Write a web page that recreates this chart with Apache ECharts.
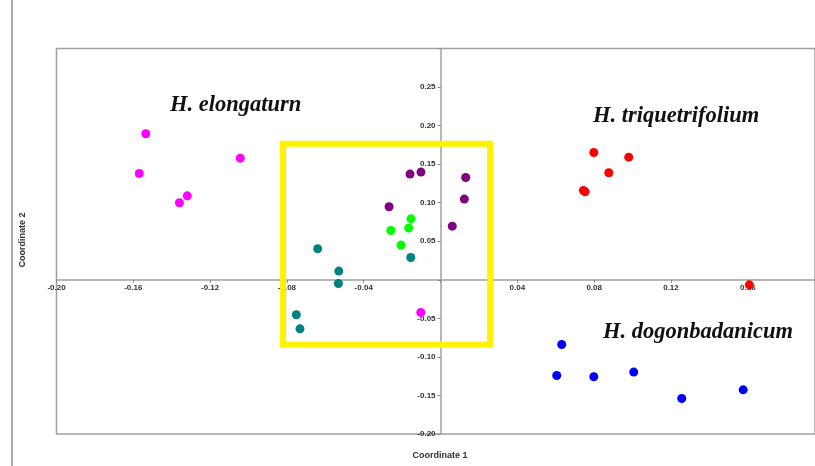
<!DOCTYPE html>
<html>
<head>
<meta charset="utf-8">
<script src="https://cdn.jsdelivr.net/npm/echarts@6/dist/echarts.min.js"></script>
<style>html,body{margin:0;padding:0;background:#fff;}#c{width:815px;height:466px;}</style>
</head>
<body>
<div id="c"></div>
<script>
// Data (Coordinate 1, Coordinate 2)
const elongaturn = [[-0.1535,0.1894],[-0.1569,0.1379],[-0.1319,0.1089],[-0.1360,0.0999],[-0.1043,0.1578],[-0.0103,-0.0424]];
const triquetrifolium = [[0.0798,0.1651],[0.0980,0.1591],[0.0876,0.1388],[0.0744,0.1158],[0.0753,0.1141],[0.1608,-0.0065]];
const dogonbadanicum = [[0.0631,-0.0839],[0.0605,-0.1241],[0.0798,-0.1258],[0.1006,-0.1197],[0.1256,-0.1540],[0.1576,-0.1427]];
const purpleGroup = [[-0.0159,0.1371],[-0.0102,0.1397],[-0.0268,0.0947],[0.0131,0.1327],[0.0124,0.1047],[0.0061,0.0696]];
const greenGroup = [[-0.0154,0.0791],[-0.0166,0.0671],[-0.0259,0.0639],[-0.0206,0.0450]];
const tealGroup = [[-0.0155,0.0289],[-0.0640,0.0402],[-0.0530,0.0113],[-0.0532,-0.0048],[-0.0751,-0.0454],[-0.0732,-0.0636]];

const groupNames = ['H. elongaturn','H. triquetrifolium','H. dogonbadanicum','purple','green','teal'];
const groupColors = ['#ff00ff','#ff0000','#0000ff','#800080','#00ff00','#008080'];
const groupData = [elongaturn, triquetrifolium, dogonbadanicum, purpleGroup, greenGroup, tealGroup];

const xTickLabels = ['-0.20','-0.16','-0.12','-0.08','-0.04','0.04','0.08','0.12','0.16'];
const yTickLabels = ['-0.20','-0.15','-0.10','-0.05','0.05','0.10','0.15','0.20','0.25'];

// Highlight box (data coordinates)
const boxX = [-0.082, 0.0258];
const boxY = [-0.0843, 0.1764];

const chart = echarts.init(document.getElementById('c'));
const tickFont = {fontSize: 8, fontWeight: 'bold', color: '#333', fontFamily: 'Arial, "Liberation Sans", sans-serif'};
function fmt(list) {
  return function (v) {
    const s = v.toFixed(2);
    return list.indexOf(s) >= 0 ? s : '';
  };
}
const option = {
  animation: false,
  backgroundColor: '#fff',
  grid: {left: 56.5, right: 0, top: 48.5, bottom: 32, show: true, borderColor: '#a0a0a0', borderWidth: 1.5, containLabel: false},
  xAxis: {
    type: 'value', min: -0.20, max: 0.195, interval: 0.04, position: 'bottom', offset: 0,
    axisLine: {onZero: false, lineStyle: {color: '#a0a0a0', width: 1.5}},
    axisTick: {show: true, length: 3, lineStyle: {color: '#888'}},
    axisLabel: Object.assign({formatter: fmt(xTickLabels), margin: 4, showMaxLabel: false}, tickFont),
    splitLine: {show: false}
  },
  yAxis: {
    type: 'value', min: -0.20, max: 0.30, interval: 0.05, position: 'left', offset: 0,
    axisLine: {onZero: false, lineStyle: {color: '#a0a0a0', width: 1.5}},
    axisTick: {show: true, length: 3, lineStyle: {color: '#888'}},
    axisLabel: Object.assign({formatter: fmt(yTickLabels), margin: 5}, tickFont),
    splitLine: {show: false}
  },
  series: groupData.map(function (d, i) {
    return {
      name: groupNames[i], type: 'scatter', data: d, symbolSize: 9,
      itemStyle: {color: groupColors[i], opacity: 1}, z: 3
    };
  })
};
chart.setOption(option);

// Move the axes (with their labels) onto the zero lines
const origin = chart.convertToPixel({gridIndex: 0}, [0, 0]);
const corner = chart.convertToPixel({gridIndex: 0}, [-0.20, -0.20]);
const p1 = chart.convertToPixel({gridIndex: 0}, [boxX[0], boxY[1]]);
const p2 = chart.convertToPixel({gridIndex: 0}, [boxX[1], boxY[0]]);
const labelFont = 'italic bold 22.5px "Liberation Serif", "DejaVu Serif", serif';
const axisTitleFont = 'bold 9px Arial, "Liberation Sans", sans-serif';
chart.setOption({
  xAxis: {offset: -(corner[1] - origin[1])},
  yAxis: {offset: -(origin[0] - corner[0])},
  graphic: [
    {type: 'line', shape: {x1: 12, y1: 0, x2: 12, y2: 466}, style: {stroke: '#a8a8a8', lineWidth: 2}, silent: true},
    {type: 'rect', shape: {x: p1[0], y: p1[1], width: p2[0] - p1[0], height: p2[1] - p1[1]},
     style: {fill: 'none', stroke: '#fff200', lineWidth: 6}, z: 10, silent: true},
    {type: 'text', x: 170, y: 105, style: {text: 'H. elongaturn', font: labelFont, fill: '#111', textVerticalAlign: 'middle'}, z: 10},
    {type: 'text', x: 593, y: 116, style: {text: 'H. triquetrifolium', font: labelFont, fill: '#111', textVerticalAlign: 'middle'}, z: 10},
    {type: 'text', x: 603, y: 332, style: {text: 'H. dogonbadanicum', font: labelFont, fill: '#111', textVerticalAlign: 'middle'}, z: 10},
    {type: 'text', x: 440, y: 456, style: {text: 'Coordinate 1', font: axisTitleFont, fill: '#333', textAlign: 'center', textVerticalAlign: 'middle'}, z: 10},
    {type: 'text', x: 23, y: 240, rotation: Math.PI / 2, style: {text: 'Coordinate 2', font: axisTitleFont, fill: '#333', textAlign: 'center', textVerticalAlign: 'middle'}, z: 10}
  ]
});
</script>
</body>
</html>
